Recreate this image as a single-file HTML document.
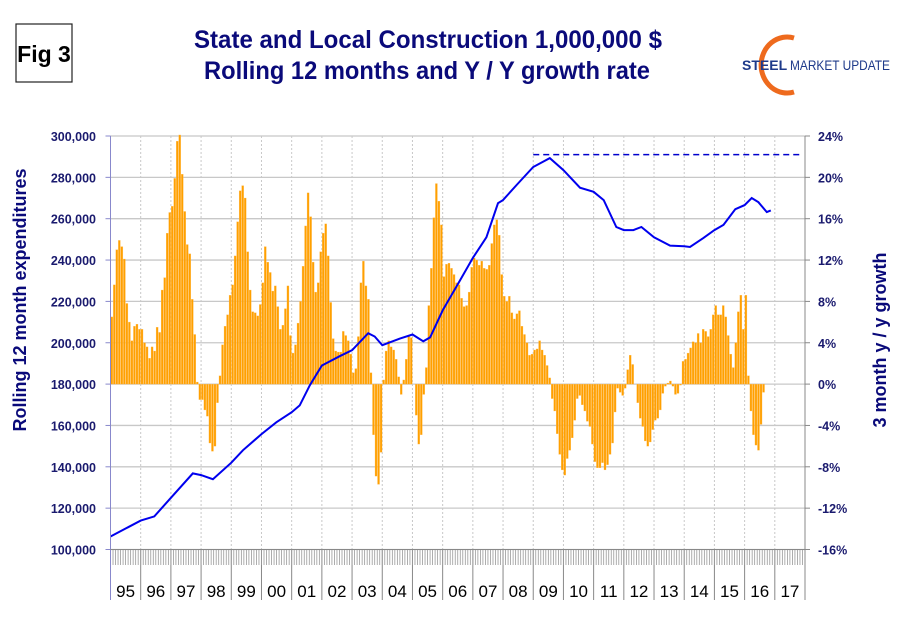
<!DOCTYPE html>
<html><head><meta charset="utf-8"><style>
body{margin:0;background:#fff;width:910px;height:622px;overflow:hidden;font-family:"Liberation Sans",sans-serif}
svg text{font-family:"Liberation Sans",sans-serif}
</style></head><body>
<svg id="c" width="910" height="622" viewBox="0 0 910 622">
<rect x="16" y="24" width="56" height="58" fill="#fff" stroke="#222" stroke-width="1.2"/>
<text x="44" y="62" font-size="23" font-weight="bold" text-anchor="middle" fill="#000">Fig 3</text>
<text x="428" y="48" font-size="25" font-weight="bold" text-anchor="middle" fill="#0a0a7a" textLength="468" lengthAdjust="spacingAndGlyphs">State and Local Construction 1,000,000 $</text>
<text x="427" y="79" font-size="25" font-weight="bold" text-anchor="middle" fill="#0a0a7a" textLength="446" lengthAdjust="spacingAndGlyphs">Rolling 12 months and Y / Y growth rate</text>
<g>
<path d="M 794 38 A 26 28 0 1 0 794 92" fill="none" stroke="#ee6a1d" stroke-width="5"/>
<text x="742" y="70" font-size="14" font-weight="bold" fill="#1e3a8a">STEEL</text>
<text x="790" y="70" font-size="14" fill="#1e3a8a" textLength="100" lengthAdjust="spacingAndGlyphs">MARKET UPDATE</text>
</g>
<g id="grid"></g><g id="bars"></g><g id="lines"></g><g id="axes"></g>
<text transform="translate(26,300) rotate(-90)" font-size="18" font-weight="bold" text-anchor="middle" fill="#0a0a7a">Rolling 12 month expenditures</text>
<text transform="translate(886,340) rotate(-90)" font-size="18" font-weight="bold" text-anchor="middle" fill="#0a0a7a">3 month y / y growth</text>
</svg>
<script>
const years=["95","96","97","98","99","00","01","02","03","04","05","06","07","08","09","10","11","12","13","14","15","16","17"];
const leftTicks=[100000,120000,140000,160000,180000,200000,220000,240000,260000,280000,300000];
const rightTicks=[-16,-12,-8,-4,0,4,8,12,16,20,24];
const growth=[
6.5,9.6,13,13.9,13.3,12.1,7.8,6,4.2,5.6,5.8,5.3,
5.3,4,3.6,2.5,3.6,3.2,5.5,5,9.1,10.3,14.6,16.6,
17.2,19.9,23.5,24.1,20.3,16.7,13.5,12.6,8.2,4.8,0.2,-1.5,
-1.5,-2.5,-3.1,-5.7,-6.5,-6,-1.8,0.8,3.8,5.6,6.7,8.6,
9.6,12.4,15.7,18.7,19.2,18,12.8,9.1,7,6.9,6.6,7.7,
9.8,13.3,11.8,10.8,9,9.5,7.5,5.3,5.7,7.3,9.5,4.7,
3,3.8,5.9,8,11.4,15.3,18.5,16.2,11.8,8.9,9.8,12.8,
14.6,15.5,12.4,7.9,4.4,3.2,3.1,3.1,5.1,4.7,4.2,2.9,
1.1,1.5,4.6,9.8,11.9,9.5,8.2,1.1,-4.9,-8.9,-9.7,-6.6,
0.4,3.2,4.2,3.6,3.3,2.4,0.7,-1,0.4,2.4,4.7,4.5,
0,-3,-5.8,-4.9,-1,1.6,7.6,11.2,16.1,19.4,17.7,15.4,
10.4,11.6,11.7,11.2,10.6,9.8,9.6,8.3,7.5,7.6,8.9,11.3,
12.2,12,11.5,11.9,11.2,11.1,11.5,13.6,15.4,15.9,14.4,10.6,
8.5,8,8.5,6.9,6.3,6.8,7.1,5.6,4.8,4,2.8,2.9,
3.3,3.4,4.2,3.3,2.8,1.8,0.6,-1.4,-2.6,-4.8,-6.8,-8.3,
-8.8,-7.2,-6.4,-5.2,-3.5,-1.4,-1.1,-2,-2.6,-3.6,-4.1,-5.8,
-7.5,-8.1,-8.1,-7.6,-8.3,-7.8,-6.8,-5.7,-2.7,-0.4,-0.8,-1.1,
-0.4,1.4,2.8,1.9,0,-1.8,-3.3,-4.1,-5.5,-6,-5.6,-4.4,
-3.5,-3.3,-2.5,-0.9,-0.2,0.1,0.3,-0.2,-1,-0.9,-0.1,2.2,
2.4,3,3.5,4.1,4,4.9,4,5.3,5.1,4.6,5.3,6.7,
7.6,6.7,6.7,7.6,6.5,4.7,2.9,1.6,4,7,8.6,5.3,
8.6,0.8,-2.6,-4.9,-5.9,-6.4,-3.9,-0.8];
const lineMonths=[0,12,17.4,24,32.7,36,40.7,48,52.6,60,65.9,72,75.2,79.2,84,91.1,96,102.4,105,108,115,120,124.3,127,132,138.8,144,149.4,154,156,161.4,168,174.6,180,186.6,192,196,201,204,207.8,211,216,222.4,228,230.3,235.6,240,243.6,248.3,252,254.8,257.5,260.8,262.4];
const lineValues=[106.3,114,116,125,136.8,136,134,142,148,155.8,161.5,166.4,169.7,179.4,189,193.5,196.4,204.6,203,198.8,202,204,200.7,202.6,215.7,230,241,251,267.5,269,276.3,285,289.3,283.5,275,273,269,256,254.5,254.5,256,251,247,246.7,246.3,250.6,254.5,257,264.6,266.6,270,268,263.2,264];
const peakLevel=[291000];
const peakStartMonth=[168];

const NS="http://www.w3.org/2000/svg";
const X0=110.5,X1=805,YT=136,YB=549.5,NM=years.length*12;
const xM=m=>X0+(X1-X0)*m/NM;
const yL=v=>YB-(v-100000)/(200000)*(YB-YT);
const yR=p=>YB-(p+16)/40*(YB-YT);
function mk(tag,attrs,parent){const e=document.createElementNS(NS,tag);for(const k in attrs)e.setAttribute(k,attrs[k]);document.getElementById(parent).appendChild(e);return e;}
leftTicks.forEach((v,i)=>{const y=yL(v);
 const g=mk('line',{x1:X0,x2:X1,y1:y,y2:y,stroke:'#c8c8c8','stroke-width':1.3},'grid');
 
 
 const t=mk('line',{x1:X0-5,x2:X0,y1:y,y2:y,stroke:'#8888cc'},'axes');
 
 
 const l=mk('text',{x:96,y:y+5,'font-size':12.5,'font-weight':'bold','text-anchor':'end',fill:'#1a1a6e'},'axes');
 l.textContent=v.toLocaleString('en-US');
 
 
});
rightTicks.forEach(p=>{const y=yR(p);
 const t=mk('line',{x1:X1,x2:X1+5,y1:y,y2:y,stroke:'#888'},'axes');
 
 
 const l=mk('text',{x:818,y:y+5,'font-size':12.5,'font-weight':'bold',fill:'#1a1a6e'},'axes');
 l.textContent=p+'%';
 
 
});
years.forEach((yr,i)=>{const x=xM(i*12);
 if(i>0){const g=mk('line',{x1:x,x2:x,y1:YT,y2:YB,stroke:'#c8c8c8','stroke-dasharray':'2,2'},'grid');
 
 }
 const s=mk('line',{x1:x,x2:x,y1:YB,y2:600,stroke:'#888'},'axes');
 
 
 const l=mk('text',{x:xM(i*12+6),y:597,'font-size':17,'text-anchor':'middle',fill:'#000'},'axes');
 l.textContent=yr;
 
 
});
for(let m=0;m<NM;m++){const x=xM(m);
 const t=mk('line',{x1:x,x2:x,y1:YB,y2:565,stroke:'#999','stroke-width':0.8},'axes');
 
 }
growth.forEach((p,m)=>{const y0=yR(0),y=yR(p);const w=(X1-X0)/NM;
 const b=mk('rect',{x:xM(m)+0.3,y:Math.min(y,y0),width:w-0.5,height:Math.abs(y-y0),fill:'#ffa000',stroke:'#ffc060','stroke-width':0.3},'bars');
 
 
});
const d=lineMonths.map((m,i)=>(i?'L':'M')+xM(m).toFixed(1)+' '+yL(lineValues[i]*1000).toFixed(1)).join(' ');
const ln=mk('path',{d:d,fill:'none',stroke:'#0000ee','stroke-width':2},'lines');


const dl=mk('line',{x1:xM(peakStartMonth[0]),x2:800,y1:yL(peakLevel[0]),y2:yL(peakLevel[0]),stroke:'#0000cc','stroke-width':1.5,'stroke-dasharray':'6,4'},'lines');


const la=mk('line',{x1:X0,x2:X0,y1:YT,y2:600,stroke:'#8888cc'},'axes');


const ra=mk('line',{x1:X1,x2:X1,y1:YT,y2:600,stroke:'#888'},'axes');


const ba=mk('line',{x1:X0,x2:X1,y1:YB,y2:YB,stroke:'#888'},'axes');


</script>
</body></html>
